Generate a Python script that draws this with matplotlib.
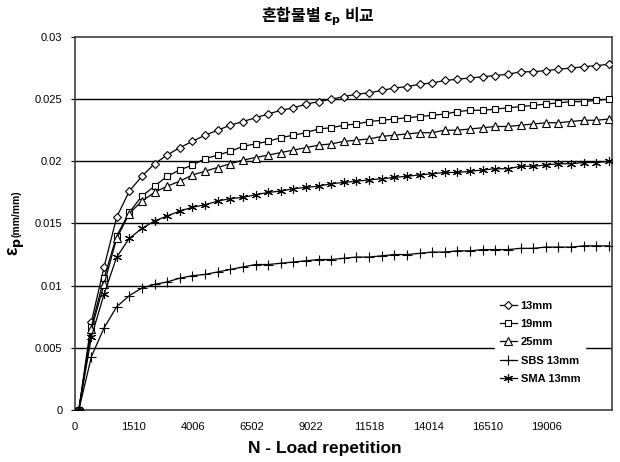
import matplotlib
matplotlib.use('Agg')
import matplotlib.pyplot as plt
import numpy as np

plt.rcParams['font.family'] = ['Liberation Sans', 'Noto Sans CJK KR', 'DejaVu Sans']

# strain values per load step (category index 0..42)
mix_13 = [0, 0.0071, 0.0115, 0.0155, 0.0176, 0.0188, 0.0198, 0.0205, 0.0211, 0.0216,
          0.0221, 0.0225, 0.0229, 0.0232, 0.0235, 0.0238, 0.0241, 0.0243, 0.0246, 0.0248,
          0.0250, 0.0252, 0.0254, 0.0255, 0.0257, 0.0259, 0.0260, 0.0262, 0.0263, 0.0265,
          0.0266, 0.0267, 0.0268, 0.0269, 0.0270, 0.0272, 0.0272, 0.0273, 0.0274, 0.0275,
          0.0276, 0.0277, 0.0278]
mix_19 = [0, 0.0067, 0.0106, 0.0140, 0.0159, 0.0172, 0.0180, 0.0188, 0.0193, 0.0197,
          0.0202, 0.0205, 0.0208, 0.0212, 0.0214, 0.0216, 0.0219, 0.0221, 0.0223, 0.0226,
          0.0227, 0.0229, 0.0230, 0.0232, 0.0233, 0.0234, 0.0235, 0.0236, 0.0237, 0.0238,
          0.0240, 0.0241, 0.0241, 0.0242, 0.0243, 0.0244, 0.0245, 0.0246, 0.0247, 0.0248,
          0.0248, 0.0249, 0.0250]
mix_25 = [0, 0.0065, 0.0101, 0.0138, 0.0158, 0.0168, 0.0175, 0.0180, 0.0184, 0.0189,
          0.0192, 0.0195, 0.0198, 0.0201, 0.0203, 0.0205, 0.0207, 0.0209, 0.0211, 0.0213,
          0.0214, 0.0216, 0.0217, 0.0218, 0.0220, 0.0221, 0.0222, 0.0223, 0.0223, 0.0225,
          0.0225, 0.0226, 0.0227, 0.0228, 0.0228, 0.0229, 0.0230, 0.0231, 0.0231, 0.0232,
          0.0233, 0.0233, 0.0234]
sbs_13 = [0, 0.0043, 0.0066, 0.0083, 0.0092, 0.0098, 0.0101, 0.0103, 0.0106, 0.0108,
          0.0109, 0.0111, 0.0113, 0.0115, 0.0117, 0.0117, 0.0118, 0.0119, 0.0120, 0.0121,
          0.0121, 0.0122, 0.0123, 0.0123, 0.0124, 0.0125, 0.0125, 0.0126, 0.0127, 0.0127,
          0.0128, 0.0128, 0.0129, 0.0129, 0.0129, 0.0130, 0.0130, 0.0131, 0.0131, 0.0131,
          0.0132, 0.0132, 0.0132]
sma_13 = [0, 0.0059, 0.0093, 0.0123, 0.0138, 0.0146, 0.0152, 0.0156, 0.0160, 0.0163,
          0.0165, 0.0168, 0.0170, 0.0171, 0.0173, 0.0175, 0.0176, 0.0178, 0.0179, 0.0180,
          0.0182, 0.0183, 0.0184, 0.0185, 0.0186, 0.0187, 0.0188, 0.0189, 0.0190, 0.0191,
          0.0191, 0.0192, 0.0193, 0.0194, 0.0194, 0.0196, 0.0196, 0.0197, 0.0198, 0.0198,
          0.0199, 0.0199, 0.0200]
x_labels = ['0', '1510', '4006', '6502', '9022', '11518', '14014', '16510', '19006']
y_labels = ['0', '0.005', '0.01', '0.015', '0.02', '0.025', '0.03']
names = ['13mm', '19mm', '25mm', 'SBS 13mm', 'SMA 13mm']

x = np.arange(len(mix_13))

fig = plt.figure(figsize=(6.2, 4.62), dpi=100)
ax = fig.add_axes([0.121, 0.1126, 0.866, 0.8074])

series = [mix_13, mix_19, mix_25, sbs_13, sma_13]
markers = ['D', 's', '^', '+', (6, 2, 0)]
msizes = [4.2, 5, 5.2, 6.5, 6.5]
for s, m, ms, lab in zip(series, markers, msizes, names):
    ax.plot(x, s, color='black', linewidth=0.9, marker=m, markersize=ms,
            markerfacecolor='white', markeredgecolor='black', markeredgewidth=0.8,
            label=lab, zorder=3)

ax.set_xlim(-0.24, len(x) - 1 + 0.24)
ax.set_ylim(0, 0.03)
yt = np.arange(len(y_labels)) * 0.005
ax.set_yticks(yt)
ax.set_yticklabels(y_labels, fontsize=8)
xt = np.arange(len(x_labels)) * (len(x) - 1) / 9.0 - 0.3
ax.set_xticks(xt)
ax.set_xticklabels(x_labels, fontsize=8)
ax.tick_params(axis='x', length=0, pad=9)
ax.tick_params(axis='y', length=3, pad=6)
for v in yt[1:-1]:
    ax.axhline(v, color='black', linewidth=1.0, zorder=1)
for sp in ax.spines.values():
    sp.set_color('#404040')
    sp.set_linewidth(1.2)

leg = ax.legend(loc='upper left', bbox_to_anchor=(0.772, 0.32), frameon=True,
                fancybox=False, edgecolor='white', framealpha=1,
                prop={'weight': 'bold', 'size': 8}, handlelength=1.6,
                handletextpad=0.3, labelspacing=0.75, borderpad=0.4)
leg.set_zorder(5)

fig.text(0.513, 1 - 16 / 462, '혼합물별 ε$_\\mathbf{p}$ 비교', ha='center', va='center',
         fontsize=11.5, fontweight='bold', family=['Noto Sans CJK KR', 'DejaVu Sans'])
fig.text(0.524, 1 - 449 / 462, 'N - Load repetition', ha='center', va='center',
         fontsize=12.5, fontweight='bold')
fig.text(0.027, 1 - 256 / 462, 'ε$_\\mathbf{p}$', rotation=90, ha='center', va='bottom',
         fontsize=13, fontweight='bold')
fig.text(0.027, 1 - 237 / 462, '(mm/mm)', rotation=90, ha='center', va='bottom',
         fontsize=7.5, fontweight='bold')

fig.savefig('out.png', dpi=100)
plt.close()
